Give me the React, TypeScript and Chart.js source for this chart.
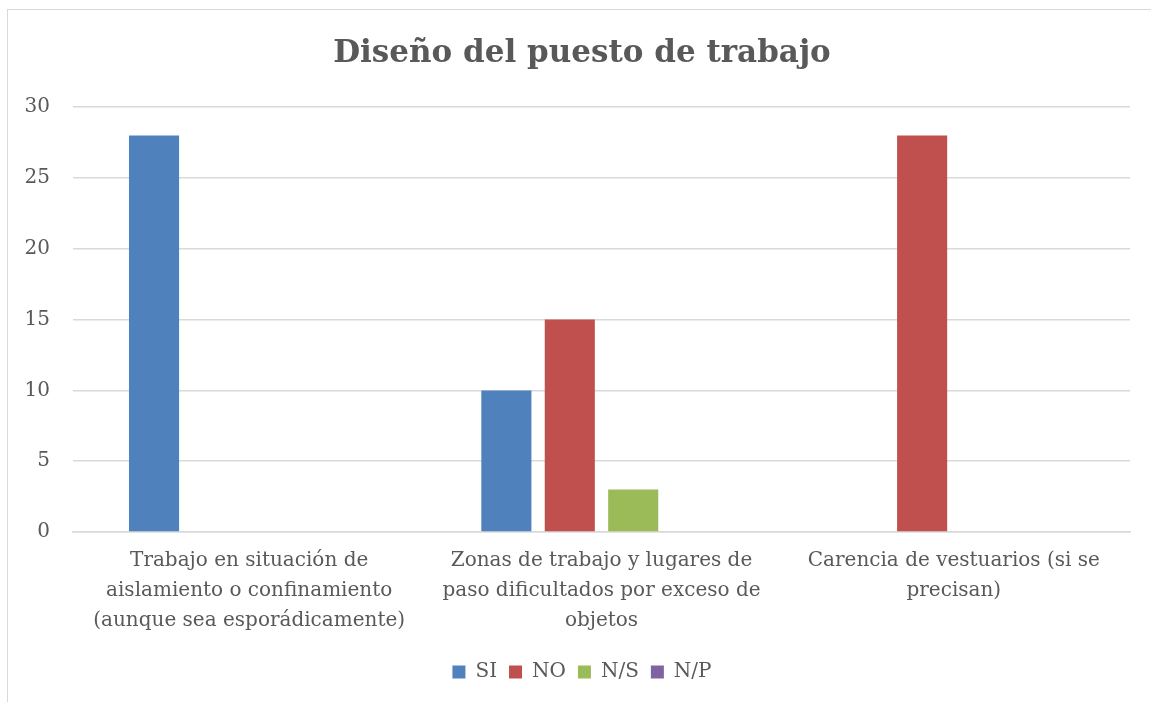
import React, { useEffect, useRef } from "react";
import { Chart, registerables } from "chart.js";

Chart.register(...registerables);

const categories: string[][] = [
  ["Trabajo en situación de", "aislamiento o confinamiento", "(aunque sea esporádicamente)"],
  ["Zonas de trabajo y lugares de", "paso dificultados por exceso de", "objetos"],
  ["Carencia de vestuarios (si se", "precisan)"],
];
const seriesNames = ["SI", "NO", "N/S", "N/P"];
const siValues = [28, 10, 0];
const noValues = [0, 15, 28];
const nsValues = [0, 3, 0];
const npValues = [0, 0, 0];
const seriesColors = ["#4f81bd", "#c0504d", "#9bbb59", "#8064a2"];
const yTicks = { min: 0, max: 30, step: 5 };
const titleText = "Diseño del puesto de trabajo";

const FONT = "'DejaVu Serif', serif";
const TEXT = "#595959";

export default function App() {
  const ref = useRef<HTMLCanvasElement | null>(null);
  useEffect(() => {
    if (!ref.current) return;
    const values = [siValues, noValues, nsValues, npValues];
    const chart = new Chart(ref.current, {
      type: "bar",
      data: {
        labels: categories,
        datasets: seriesNames.map((name, i) => ({
          label: name,
          data: values[i],
          backgroundColor: seriesColors[i],
          borderWidth: 0,
          categoryPercentage: 0.72,
          barPercentage: 0.79,
        })),
      },
      options: {
        animation: false,
        responsive: false,
        layout: { padding: { left: 0, right: 0, top: 0, bottom: 10 } },
        plugins: {
          title: {
            display: true,
            text: titleText,
            color: TEXT,
            font: { family: FONT, size: 31, weight: "bold", lineHeight: 1.2 },
            padding: { top: 35, bottom: 35 },
          },
          legend: {
            position: "bottom",
            labels: {
              boxWidth: 13,
              boxHeight: 13,
              padding: 12,
              color: TEXT,
              font: { family: FONT, size: 20 },
            },
          },
          tooltip: { enabled: false },
        },
        scales: {
          x: {
            grid: { display: false },
            border: { display: true, color: "#d9d9d9", width: 1.5 },
            ticks: {
              color: TEXT,
              font: { family: FONT, size: 20, lineHeight: 1.5 },
              maxRotation: 0,
              autoSkip: false,
              padding: 6,
            },
            afterFit: (s: any) => {
              s.height = 118;
            },
          },
          y: {
            min: yTicks.min,
            max: yTicks.max,
            grid: { color: "#d9d9d9", lineWidth: 1.5, drawTicks: false },
            border: { display: false },
            ticks: {
              stepSize: yTicks.step,
              color: TEXT,
              font: { family: FONT, size: 20 },
              padding: 23,
            },
            afterFit: (s: any) => {
              s.width = 73;
            },
          },
          y2: {
            position: "right",
            display: true,
            grid: { display: false, drawTicks: false },
            border: { display: false },
            ticks: { display: false },
            afterFit: (s: any) => {
              s.width = 34;
            },
          },
        },
      } as any,
    });
    return () => chart.destroy();
  }, []);

  return (
    <div
      style={{
        position: "absolute",
        left: 0,
        top: 0,
        width: 1151,
        height: 702,
        overflow: "hidden",
        background: "#ffffff",
      }}
    >
      <div
        style={{
          position: "absolute",
          left: 7,
          top: 9,
          width: 1160,
          height: 720,
          border: "1.5px solid #d9d9d9",
          boxSizing: "border-box",
        }}
      />
      <canvas
        ref={ref}
        width={1164}
        height={702}
        style={{ position: "absolute", left: 0, top: 0, width: 1164, height: 702 }}
      />
    </div>
  );
}
